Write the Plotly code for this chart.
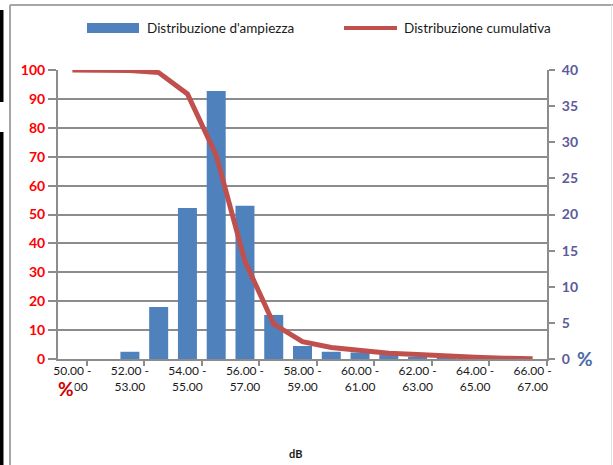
import plotly.graph_objects as go

# ---- data ----
categories = ["50.00 - 51.00", "51.00 - 52.00", "52.00 - 53.00", "53.00 - 54.00",
              "54.00 - 55.00", "55.00 - 56.00", "56.00 - 57.00", "57.00 - 58.00",
              "58.00 - 59.00", "59.00 - 60.00", "60.00 - 61.00", "61.00 - 62.00",
              "62.00 - 63.00", "63.00 - 64.00", "64.00 - 65.00", "65.00 - 66.00",
              "66.00 - 67.00"]
amplitude_pct = [0, 0, 1.0, 7.2, 20.9, 37.1, 21.2, 6.1, 1.8, 1.0, 0.9, 0.55,
                 0.3, 0.15, 0.1, 0.05, 0]
cumulative_pct = [100, 100, 99.8, 99.1, 91.7, 70.5, 33.8, 12.1, 6.0, 4.0, 2.9,
                  2.0, 1.6, 0.9, 0.6, 0.25, 0.1]
left_ticks = [0, 10, 20, 30, 40, 50, 60, 70, 80, 90, 100]
right_ticks = [0, 5, 10, 15, 20, 25, 30, 35, 40]

xs = list(range(len(categories)))
label_idx = xs[::2]
label_text = [categories[i].replace(" - ", " -<br>") for i in label_idx]

W, H = 613, 465
L, R, T, B = 58, 66, 70, 106
pw, ph = W - L - R, H - T - B


def px(x):
    return (x - L) / pw


def py(y):
    return (H - B - y) / ph


FONT = "Lato, 'Open Sans', sans-serif"
GRID = "#8c8c8c"

fig = go.Figure()
fig.add_trace(go.Bar(x=xs, y=amplitude_pct, name="Distribuzione d'ampiezza",
                     marker=dict(color="#4F81BD", line=dict(width=0)),
                     width=0.66, yaxis="y"))
fig.add_trace(go.Scatter(x=xs, y=cumulative_pct, name="Distribuzione cumulativa",
                         mode="lines", line=dict(color="#C0504D", width=5),
                         yaxis="y2"))

fig.update_layout(
    width=W, height=H,
    margin=dict(l=L, r=R, t=T, b=B, autoexpand=False),
    paper_bgcolor="white", plot_bgcolor="white",
    showlegend=False,
    font=dict(family=FONT, size=12, color="#1a1a1a"),
    xaxis=dict(range=[-0.5, len(categories) - 0.5], tickmode="array",
               tickvals=label_idx, ticktext=label_text, ticks="",
               tickfont=dict(size=12, color="#1a1a1a"),
               showline=True, linecolor=GRID, linewidth=2, showgrid=False,
               zeroline=False, automargin=False,
               minor=dict(tickmode="array",
                          tickvals=[i + 0.5 for i in label_idx],
                          ticks="outside", ticklen=5, tickcolor=GRID,
                          tickwidth=2, showgrid=False)),
    yaxis=dict(side="right", range=[0, 40], tickmode="array",
               tickvals=right_ticks, ticktext=[str(v) for v in right_ticks],
               ticks="outside", ticklen=6, tickcolor=GRID, tickwidth=2,
               tickfont=dict(size=14, color="#5B5B9B", family=FONT, weight="bold"),
               showline=True, linecolor=GRID, linewidth=2, showgrid=False,
               zeroline=False, automargin=False, ticklabelstandoff=4),
    yaxis2=dict(side="left", overlaying="y", range=[0, 100], tickmode="array",
                tickvals=left_ticks, ticktext=[str(v) for v in left_ticks],
                ticks="outside", ticklen=8, tickcolor=GRID, tickwidth=2,
                tickfont=dict(size=14, color="#FF0000", family=FONT, weight="bold"),
                showline=True, linecolor=GRID, linewidth=2,
                showgrid=True, gridcolor=GRID, gridwidth=2,
                zeroline=False, automargin=False),
)

shapes = []
# legend swatches
shapes.append(dict(type="rect", xref="paper", yref="paper",
                   x0=px(87), x1=px(139), y0=py(33), y1=py(23),
                   fillcolor="#4F81BD", line=dict(width=0)))
shapes.append(dict(type="line", xref="paper", yref="paper",
                   x0=px(344), x1=px(397), y0=py(28), y1=py(28),
                   line=dict(color="#C0504D", width=4)))
# outer chart frame
shapes.append(dict(type="line", xref="paper", yref="paper",
                   x0=px(10), x1=px(613), y0=py(5), y1=py(5),
                   line=dict(color="#a6a6a6", width=2)))
shapes.append(dict(type="line", xref="paper", yref="paper",
                   x0=px(10), x1=px(10), y0=py(5), y1=py(470),
                   line=dict(color="#a6a6a6", width=2)))
shapes.append(dict(type="line", xref="paper", yref="paper",
                   x0=px(611.5), x1=px(611.5), y0=py(5), y1=py(470),
                   line=dict(color="#e0e0e0", width=1)))
# black bars at the far left
shapes.append(dict(type="rect", xref="paper", yref="paper",
                   x0=px(0), x1=px(3.5), y0=py(102), y1=py(10),
                   fillcolor="black", line=dict(width=0)))
shapes.append(dict(type="rect", xref="paper", yref="paper",
                   x0=px(0), x1=px(3.5), y0=py(470), y1=py(132),
                   fillcolor="black", line=dict(width=0)))
fig.update_layout(shapes=shapes)

ann = []
ann.append(dict(text="Distribuzione d'ampiezza", xref="paper", yref="paper",
                x=px(145), y=py(28), xanchor="left", yanchor="middle",
                showarrow=False, font=dict(size=13.5, color="#1a1a1a")))
ann.append(dict(text="Distribuzione cumulativa", xref="paper", yref="paper",
                x=px(402), y=py(28), xanchor="left", yanchor="middle",
                showarrow=False, font=dict(size=13.5, color="#1a1a1a")))
ann.append(dict(text="%", xref="paper", yref="paper",
                x=px(66), y=py(388), xanchor="center", yanchor="middle",
                showarrow=False, bgcolor="white", borderpad=0,
                font=dict(size=19, color="#CC0000", weight="bold")))
ann.append(dict(text="%", xref="paper", yref="paper",
                x=px(575), y=py(358), xanchor="left", yanchor="middle",
                showarrow=False, font=dict(size=19, color="#4A6AAA", weight="bold")))
ann.append(dict(text="dB", xref="paper", yref="paper",
                x=px(295), y=py(453), xanchor="center", yanchor="middle",
                showarrow=False, font=dict(size=11, color="#1a1a1a", weight="bold")))
fig.update_layout(annotations=ann)

fig.write_html("out.html",
               config={"displayModeBar": False},
               post_script="document.body.style.margin='0px';"
                           "document.body.style.overflow='hidden';")
